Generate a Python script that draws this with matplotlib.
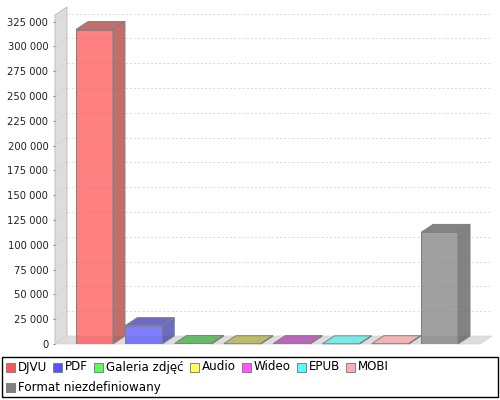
import matplotlib
matplotlib.use("Agg")
import matplotlib.pyplot as plt
from matplotlib.patches import Rectangle, Polygon
from matplotlib.ticker import FuncFormatter

# data
categories = ["DJVU", "PDF", "Galeria zdjęć", "Audio", "Wideo", "EPUB", "MOBI",
              "Format niezdefiniowany"]
values = [317000, 18500, 500, 300, 400, 200, 300, 112500]
yticks = list(range(0, 325001, 25000))

# colours (front face = base colour at 0.75 alpha, side/top = darker)
base = ["#FF5555", "#5555FF", "#55FF55", "#FFFF55", "#FF55FF", "#55FFFF", "#FFAFAF", "#808080"]
darker = ["#B23B3B", "#3B3BB2", "#3BB23B", "#B2B23B", "#B23BB2", "#55F0F0", "#FFA5A5", "#595959"]

W, H = 500, 400
fig = plt.figure(figsize=(5, 4), dpi=100)
fig.patch.set_facecolor("white")
ax = fig.add_axes([55 / W, 56 / H, 425 / W, 329 / H])
ax.set_xlim(-0.801, 7.821)
ax.set_ylim(0, 331650)
ax.set_facecolor("none")
for s in ax.spines.values():
    s.set_visible(False)
ax.set_xticks([])
ax.set_yticks(yticks)
ax.yaxis.set_major_formatter(FuncFormatter(lambda v, p: f"{int(v):,}".replace(",", " ")))
ax.tick_params(axis="y", length=1.8, width=0.7, color="#808080", pad=3,
               labelsize=7.2, labelcolor="#222222")

# 3d depth offset (12px right, 8px up) in data units
x0, x1 = ax.get_xlim()
y0, y1 = ax.get_ylim()
dx = 12 * (x1 - x0) / 425
dy = 8 * (y1 - y0) / 329

wall_c = "#DDDDDD"
# wall
ax.add_patch(Polygon([(x0, 0), (x0 + dx, dy), (x0 + dx, y1 + dy), (x0, y1)], closed=True,
                     facecolor=wall_c, edgecolor="#C0C0C0", lw=0.7, clip_on=False, zorder=1))
# floor
ax.add_patch(Polygon([(x0, 0), (x0 + dx, dy), (x1 + dx, dy), (x1, 0)], closed=True,
                     facecolor=wall_c, edgecolor="#D4D4D4", lw=0.5, clip_on=False, zorder=1))

# grid lines on back plane + diagonal on the wall
for t in yticks[1:]:
    ax.plot([x0 + dx, x1 + dx], [t + dy, t + dy], color="#D6D6D6", lw=0.6,
            ls=(0, (2.5, 2.5)), clip_on=False, zorder=2)
    ax.plot([x0, x0 + dx], [t, t + dy], color="#CCCCCC", lw=0.6,
            ls=(0, (2, 2)), clip_on=False, zorder=2)

bw = 0.75
for i, v in enumerate(values):
    a, b = i - bw / 2, i + bw / 2
    ax.add_patch(Rectangle((a, 0), bw, v, facecolor=base[i], alpha=0.75, lw=0, zorder=3))
    ax.add_patch(Rectangle((a, 0), bw, v, facecolor="none", edgecolor="#808080", lw=0.7, zorder=4))
    side = [(b, 0), (b + dx, dy), (b + dx, v + dy), (b, v)]
    top = [(a, v), (a + dx, v + dy), (b + dx, v + dy), (b, v)]
    for poly in (side, top):
        ax.add_patch(Polygon(poly, closed=True, facecolor=darker[i], alpha=0.75, lw=0,
                             clip_on=False, zorder=3))
        ax.add_patch(Polygon(poly, closed=True, facecolor="none", edgecolor="#808080",
                             lw=0.7, clip_on=False, zorder=4))

# legend box with flowing items
fig.add_artist(Rectangle((2 / W, 3 / H), 496 / W, 40 / H, transform=fig.transFigure,
                         facecolor="white", edgecolor="black", lw=1))
renderer = fig.canvas.get_renderer()
x, row_y = 6, 367
for name, col in zip(categories, base):
    t = fig.text(0, 0, name, fontsize=8.6, color="black", va="center", ha="left")
    tw = t.get_window_extent(renderer).width
    if x + 12 + tw > 496:
        x = 6
        row_y += 20
    t.set_position(((x + 12) / W, (H - row_y) / H))
    fig.add_artist(Rectangle((x / W, (H - row_y - 5) / H), 9 / W, 9 / H,
                             transform=fig.transFigure, facecolor=col,
                             edgecolor="#808080", lw=0.7))
    x += 12 + tw + 6

fig.savefig("out.png", dpi=100)
